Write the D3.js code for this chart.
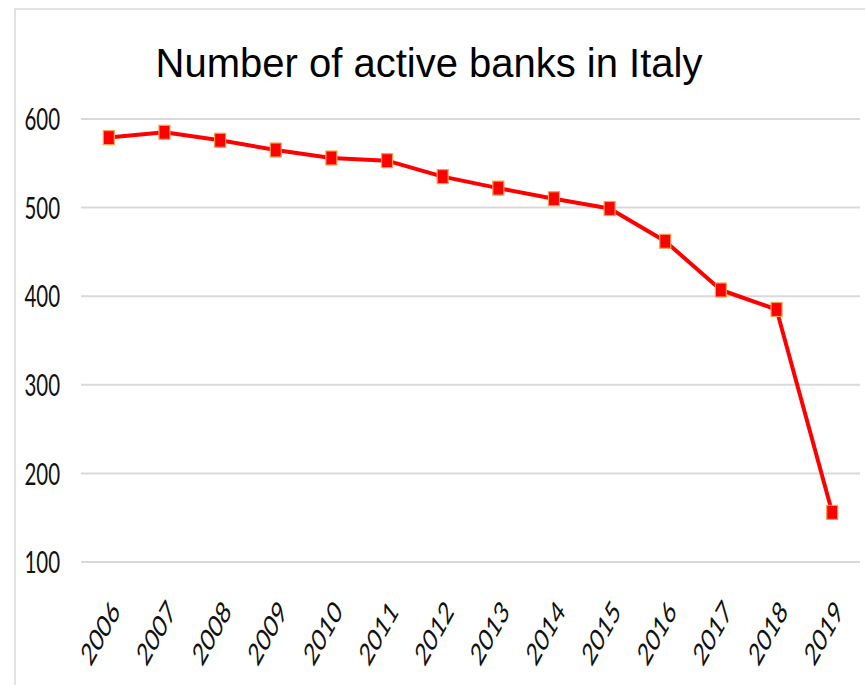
<!DOCTYPE html>
<html><head><meta charset="utf-8">
<script src="https://cdn.jsdelivr.net/npm/d3@7"></script>
<style>html,body{margin:0;padding:0;background:#fff;}svg{display:block;}</style>
</head><body>
<script>
const years = ["2006","2007","2008","2009","2010","2011","2012","2013","2014","2015","2016","2017","2018","2019"];
const banks = [579, 585, 576, 565, 556, 553, 535, 522, 510, 499, 462, 407, 385, 156];
const yTicks = [100, 200, 300, 400, 500, 600];
const title = "Number of active banks in Italy";

const W = 865, H = 685;
const svg = d3.select("body").append("svg").attr("width", W).attr("height", H);

// frame
svg.append("rect").attr("x", 15).attr("y", 9).attr("width", W).attr("height", H)
  .attr("fill", "none").attr("stroke", "#d9d9d9").attr("stroke-width", 1.5);

const x = d3.scaleBand().domain(years).range([81, 860]);
const y = d3.scaleLinear().domain([100, 600]).range([562, 119]);

// gridlines
svg.append("g").selectAll("line").data(yTicks).join("line")
  .attr("x1", 81).attr("x2", 860)
  .attr("y1", d => y(d)).attr("y2", d => y(d))
  .attr("stroke", "#d9d9d9").attr("stroke-width", 2);

// y labels
svg.append("g").selectAll("text").data(yTicks).join("text")
  .attr("transform", d => `translate(60,${y(d)}) scale(0.66,1)`)
  .attr("text-anchor", "end").attr("dy", "0.36em")
  .attr("font-family", "Lato, 'Open Sans', sans-serif").attr("font-size", 31)
  .attr("fill", "#111").text(d => d);

// x labels
svg.append("g").selectAll("text").data(years).join("text")
  .attr("transform", d => `translate(${x(d) + x.bandwidth()/2 + 1},598) scale(0.66,1) rotate(-50)`)
  .attr("text-anchor", "end").attr("dy", "0.72em")
  .attr("font-family", "Lato, 'Open Sans', sans-serif").attr("font-size", 31)
  .attr("fill", "#111").text(d => d);

// line
const line = d3.line().x((d, i) => x(years[i]) + x.bandwidth()/2).y(d => y(d));
svg.append("path").datum(banks).attr("d", line)
  .attr("fill", "none").attr("stroke", "#ff0000").attr("stroke-width", 4)
  .attr("stroke-linejoin", "round");

// markers
svg.append("g").selectAll("rect").data(banks).join("rect")
  .attr("x", (d, i) => x(years[i]) + x.bandwidth()/2 - 5.5)
  .attr("y", d => y(d) - 7)
  .attr("width", 11).attr("height", 14)
  .attr("fill", "#ff0000").attr("stroke", "#f5a050").attr("stroke-width", 1.2);

// title
svg.append("text").attr("x", 429).attr("y", 77).attr("text-anchor", "middle")
  .attr("font-family", "'Liberation Sans', Arial, sans-serif").attr("font-size", 40)
  .attr("fill", "#000").text(title);
</script>
</body></html>
